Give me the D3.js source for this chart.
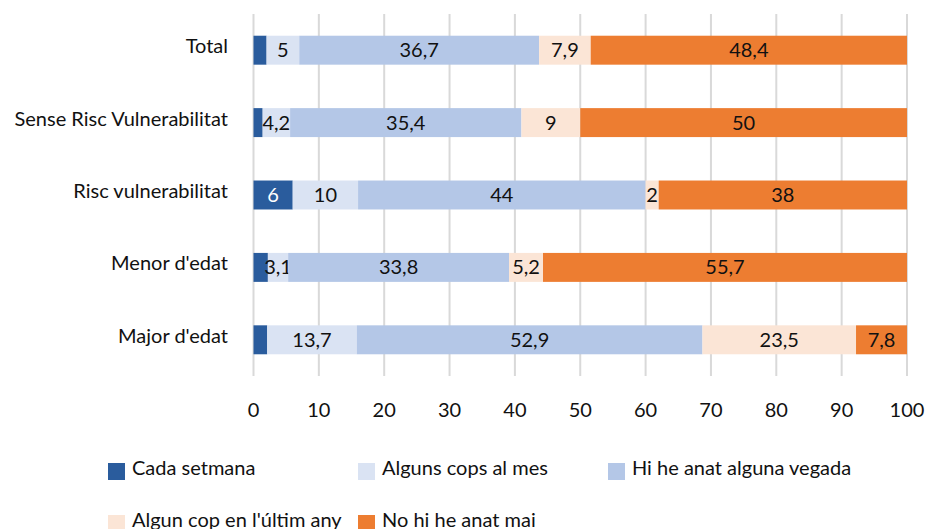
<!DOCTYPE html>
<html><head><meta charset="utf-8">
<script src="https://cdn.jsdelivr.net/npm/d3@7"></script>
<style>body{margin:0;background:#fff;}svg{display:block;font-family:Lato,"Open Sans",sans-serif;}</style>
</head><body>
<svg id="c" width="928" height="529"></svg>
<script>
const categories = ["Total","Sense Risc Vulnerabilitat","Risc vulnerabilitat","Menor d'edat","Major d'edat"];
const seriesNames = ["Cada setmana","Alguns cops al mes","Hi he anat alguna vegada","Algun cop en l'últim any","No hi he anat mai"];
const cadaSetmana = [2.0,1.4,6,2.2,2.1];
const algunsCops = [5,4.2,10,3.1,13.7];
const hiHeAnat = [36.7,35.4,44,33.8,52.9];
const algunCop = [7.9,9,2,5.2,23.5];
const noHiHeAnat = [48.4,50,38,55.7,7.8];
const showLabel = [[false,false,true,false,false],[true,true,true,true,true],[true,true,true,true,true],[true,true,true,true,true],[true,true,true,true,true]];
const xTicks = [0,10,20,30,40,50,60,70,80,90,100];
const colors = ["#2a5c9d","#dae3f3","#b4c7e7","#fbe5d6","#ed7d31"];
const labelColors = ["#fff","#111","#111","#111","#111"];

const seriesVals = [cadaSetmana,algunsCops,hiHeAnat,algunCop,noHiHeAnat];
const rows = categories.map((c,i)=>{const o={cat:c}; seriesNames.forEach((s,j)=>o[s]=seriesVals[j][i]); return o;});
const stack = d3.stack().keys(seriesNames)(rows);

const FS = 20;
const svg = d3.select("#c");
const x = d3.scaleLinear().domain([0,100]).range([253.5,907]);
const y = d3.scaleBand().domain(categories).range([14,376]).paddingInner(0.6).paddingOuter(0.3);

// gridlines
svg.append("g").selectAll("line").data(xTicks).join("line")
  .attr("x1",d=>x(d)).attr("x2",d=>x(d)).attr("y1",14).attr("y2",376)
  .attr("stroke","#d9d9d9").attr("stroke-width",2);

// x tick labels
svg.append("g").selectAll("text").data(xTicks).join("text")
  .attr("x",d=>x(d)).attr("y",417).attr("text-anchor","middle")
  .attr("font-size",FS).attr("fill","#111").text(d=>d);

// category labels
svg.append("g").selectAll("text").data(categories).join("text")
  .attr("x",228).attr("y",d=>y(d)+y.bandwidth()/2+3).attr("text-anchor","end")
  .attr("font-size",FS).attr("fill","#111").text(d=>d);

// bars
stack.forEach((layer,j)=>{
  const g = svg.append("g");
  g.selectAll("rect").data(layer).join("rect")
    .attr("x",d=>x(d[0])).attr("width",d=>x(d[1])-x(d[0]))
    .attr("y",d=>y(d.data.cat)).attr("height",y.bandwidth())
    .attr("fill",colors[j]);
  g.selectAll("text").data(layer.filter((d,i)=>showLabel[j][i])).join("text")
    .attr("x",d=>(x(d[0])+x(d[1]))/2).attr("y",d=>y(d.data.cat)+y.bandwidth()/2+7)
    .attr("text-anchor","middle").attr("font-size",FS).attr("fill",labelColors[j])
    .text(d=>String(d.data[seriesNames[j]]).replace(".",","));
});

// legend
const legendPos = [[108,463],[358,463],[608,463],[108,515],[358,515]];
const lg = svg.append("g").selectAll("g").data(seriesNames).join("g")
  .attr("transform",(d,i)=>`translate(${legendPos[i][0]},${legendPos[i][1]})`);
lg.append("rect").attr("width",17).attr("height",17).attr("fill",(d,i)=>colors[i]);
lg.append("text").attr("x",24).attr("y",11.5).attr("font-size",FS).attr("fill","#111").text(d=>d);
</script>
</body></html>
